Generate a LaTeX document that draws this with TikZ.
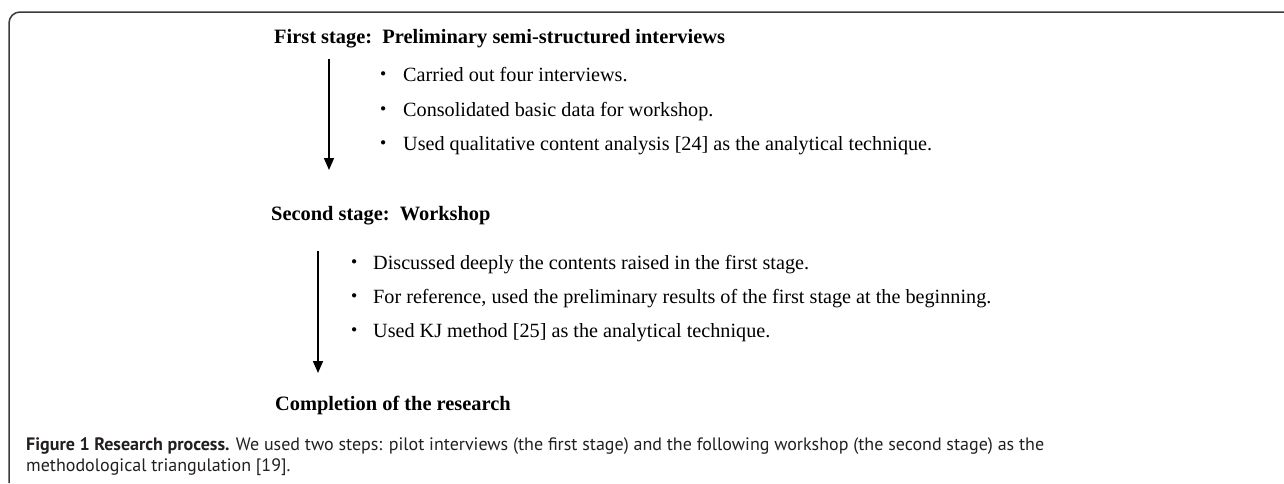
\documentclass[tikz,border=0pt]{standalone}
\usepackage{fontspec}
\setmainfont{Liberation Serif}
\newfontfamily\capfont{PT Sans}
\newfontfamily\cjk{Noto Sans CJK JP}
\usetikzlibrary{arrows.meta}
\definecolor{frameline}{HTML}{3A3A3A}
\definecolor{captext}{HTML}{231F20}
\tikzset{
  stagehead/.style={anchor=base west, inner sep=0pt, font=\fontsize{20.4}{24}\selectfont\bfseries},
  itemline/.style={anchor=base west, inner sep=0pt, font=\fontsize{20.2}{24}\selectfont},
  flow/.style={line width=1.6pt, -{Triangle[width=10pt,length=12pt]}},
  captionline/.style={anchor=base west, inner sep=0pt, font=\fontsize{18}{22}\selectfont\capfont, text=captext},
  framestyle/.style={draw=frameline, line width=1.5pt, rounded corners=11pt},
}
\newcommand{\itembullet}{\makebox[30pt][l]{\cjk ・}}
\newcommand{\itembulletb}{\makebox[29pt][l]{\cjk ・}}
\begin{document}
\begin{tikzpicture}[x=1pt, y=-1pt]
  \useasboundingbox (0,0) rectangle (1284,483);
  % open frame: top edge and left edge with a rounded corner
  \draw[framestyle] (1284,12) -- (9,12) -- (9,483);

  % first stage
  \node[stagehead] (s1) at (274,43) {First stage:\ \ Preliminary semi-structured interviews};
  \coordinate (a1top) at (329,59);
  \coordinate (a1end) at (329,170);
  \draw[flow] (a1top) -- (a1end);
  \node[itemline] (i11) at (373,81)  {\itembullet Carried out four interviews.};
  \node[itemline] (i12) at (373,116) {\itembullet Consolidated basic data for workshop.};
  \node[itemline] (i13) at (373,150) {\itembullet Used qualitative content analysis [24] as the analytical technique.};

  % second stage
  \node[stagehead] (s2) at (271,220) {Second stage:\ \ Workshop};
  \coordinate (a2top) at (318,251);
  \coordinate (a2end) at (318,373);
  \draw[flow] (a2top) -- (a2end);
  \node[itemline] (i21) at (344,269) {\itembulletb Discussed deeply the contents raised in the first stage.};
  \node[itemline] (i22) at (344,303) {\itembulletb For reference, used the preliminary results of the first stage at the beginning.};
  \node[itemline] (i23) at (344,337) {\itembulletb Used KJ method [25] as the analytical technique.};

  % end point
  \node[stagehead] (s3) at (275,410) {Completion of the research};

  % caption
  \node[captionline] (c1) at (26,450) {\textbf{Figure 1 Research process.} We used two steps: pilot interviews (the first stage) and the following workshop (the second stage) as the};
  \node[captionline] (c2) at (26,471) {methodological triangulation [19].};
\end{tikzpicture}
\end{document}
